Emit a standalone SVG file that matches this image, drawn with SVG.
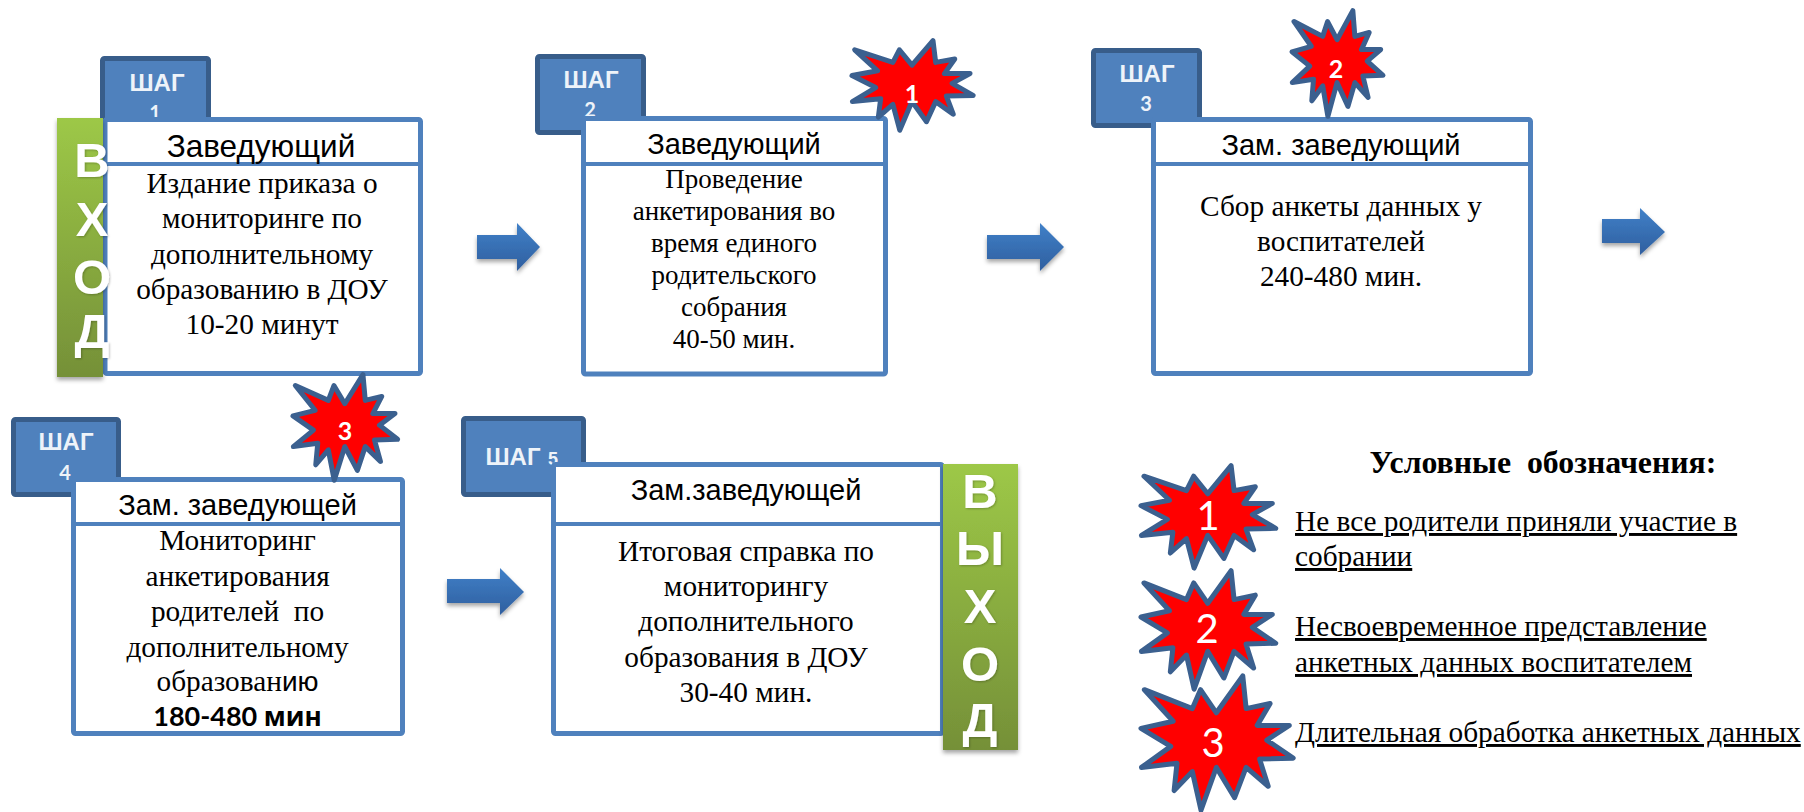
<svg xmlns="http://www.w3.org/2000/svg" width="1804" height="812" viewBox="0 0 1804 812">
<style>
text{text-anchor:middle}
.tab{fill:#4f81bd;stroke:#385d8a;stroke-width:5;stroke-linejoin:round}
.box{fill:#fff;stroke:#4f81bd;stroke-width:5;stroke-linejoin:round}
.div{stroke:#4f81bd;stroke-width:4;fill:none}
.s{font:bold 24px "Liberation Sans",Arial,sans-serif;fill:#eef3f9}
.d{font:bold 20px Lato,"Open Sans",sans-serif;fill:#eef3f9}
.t{font:29px "Liberation Sans",Arial,sans-serif;fill:#000}
.b{font:29.300px "Liberation Serif","Times New Roman",serif;fill:#000}
.l{font:49px "Liberation Sans",Arial,sans-serif;font-weight:bold;fill:#fff;filter:url(#ts)}
.n{font:bold 25px Lato,"Open Sans",sans-serif;fill:#fff}
.m{font:40px Lato,"Open Sans",sans-serif;fill:#fff}
.u{font:29.300px "Liberation Serif","Times New Roman",serif;fill:#000;text-anchor:start;text-decoration:underline}
.star{fill:#f00;stroke:#3b608f;stroke-width:5;stroke-linejoin:round;vector-effect:non-scaling-stroke}
.arr{fill:url(#ag);filter:url(#sh)}
.gr{fill:url(#gg);filter:url(#sh)}
</style>
<defs>
<linearGradient id="gg" x1="0" y1="0" x2="0" y2="1"><stop offset="0" stop-color="#9dc847"/><stop offset="1" stop-color="#759038"/></linearGradient>
<linearGradient id="ag" x1="0" y1="0" x2="0" y2="1"><stop offset="0" stop-color="#4080c8"/><stop offset="1" stop-color="#2f5f9f"/></linearGradient>
<filter id="sh" x="-20%" y="-20%" width="140%" height="140%"><feDropShadow dx="0" dy="3" stdDeviation="2" flood-color="#000" flood-opacity=".35"/></filter>
<filter id="ts" x="-30%" y="-30%" width="160%" height="160%"><feDropShadow dx="1" dy="1" stdDeviation="1" flood-color="#000" flood-opacity=".25"/></filter>
<polygon id="st" class="star" points="255,72 262,150 312,138 285,190 352,190 305,225 360,268 290,270 308,335 262,290 238,362 200,290 168,392 150,300 112,345 118,280 44,290 105,240 43,197 110,180 50,105 150,150 167,105 200,160"/>
</defs>

<g id="connectors">
<polygon class="arr" points="477,235 517,235 517,223 540,247 517,271 517,259 477,259"/>
<polygon class="arr" points="987,235 1040,235 1040,223 1064,247 1040,271 1040,259 987,259"/>
<polygon class="arr" points="1602,219 1640,219 1640,208 1665,232 1640,255 1640,243 1602,243"/>
<polygon class="arr" points="447,579 500,579 500,568 524,592 500,615 500,603 447,603"/>
</g>

<g id="step1">
<rect class="tab" x="102.500" y="58.500" width="106" height="76" rx="2"/>
<text class="s" x="157" y="91">ШАГ</text><text class="d" x="155" y="120">1</text>
<rect class="box" x="105" y="119.500" width="315.500" height="254" rx="2"/>
<line class="div" x1="105" y1="164" x2="420" y2="164"/>
<text class="t" x="261" y="157" style="font-size:31.500px">Заведующий</text>
<text class="b" x="262" y="193">Издание приказа о</text>
<text class="b" x="262" y="228">мониторинге по</text>
<text class="b" x="262" y="264">дополнительному</text>
<text class="b" x="262" y="299">образованию в ДОУ</text>
<text class="b" x="262" y="334">10-20 минут</text>
</g>
<g id="vhod">
<rect class="gr" x="57" y="118" width="46" height="259"/>
<text class="l" x="92" y="177">В</text><text class="l" x="92" y="236">Х</text><text class="l" x="92" y="294">О</text><text class="l" x="92" y="348">Д</text>
</g>

<g id="step2">
<rect class="tab" x="537.500" y="56.500" width="106" height="76" rx="2"/>
<text class="s" x="591" y="88">ШАГ</text><text class="d" x="590" y="117">2</text>
<rect class="box" x="583.500" y="118.500" width="302" height="255.500" rx="2"/>
<line class="div" x1="583" y1="164" x2="885" y2="164"/>
<text class="t" x="734" y="154">Заведующий</text>
<g style="font-size:27px">
<text class="b" style="font-size:27px" x="734" y="188">Проведение</text>
<text class="b" style="font-size:27px" x="734" y="220">анкетирования во</text>
<text class="b" style="font-size:27px" x="734" y="252">время единого</text>
<text class="b" style="font-size:27px" x="734" y="284">родительского</text>
<text class="b" style="font-size:27px" x="734" y="316">собрания</text>
<text class="b" style="font-size:27px" x="734" y="348">40-50 мин.</text>
</g>
</g>
<g id="risk1">
<use href="#st" transform="translate(852,40) scale(.382,.28) translate(-43,-70)"/>
<text class="n" x="912" y="103">1</text>
</g>

<g id="step3">
<rect class="tab" x="1093.500" y="50.500" width="106" height="75" rx="2"/>
<text class="s" x="1147" y="82">ШАГ</text><text class="d" x="1146" y="111">3</text>
<rect class="box" x="1153.500" y="119.500" width="377" height="254" rx="2"/>
<line class="div" x1="1153" y1="164" x2="1530" y2="164"/>
<text class="t" x="1341" y="155">Зам. заведующий</text>
<text class="b" x="1341" y="216">Сбор анкеты данных у</text>
<text class="b" x="1341" y="251">воспитателей</text>
<text class="b" x="1341" y="286">240-480 мин.</text>
</g>
<g id="risk2">
<use href="#st" transform="translate(1292,10) scale(.287,.33) translate(-43,-70)"/>
<text class="n" x="1336" y="78">2</text>
</g>

<g id="step4">
<rect class="tab" x="13.500" y="419.500" width="105" height="75" rx="2"/>
<text class="s" x="66" y="450">ШАГ</text><text class="d" x="65" y="480">4</text>
<rect class="box" x="73.500" y="479.500" width="329" height="254" rx="2"/>
<line class="div" x1="73" y1="524" x2="402" y2="524"/>
<text class="t" x="237.500" y="515">Зам. заведующей</text>
<text class="b" x="237.500" y="550">Мониторинг</text>
<text class="b" x="237.500" y="586">анкетирования</text>
<text class="b" x="237.500" y="621" xml:space="preserve">родителей  по</text>
<text class="b" x="237.500" y="657">дополнительному</text>
<text class="b" x="237.500" y="691">образован<tspan style="font-family:'Liberation Sans',sans-serif;font-size:28px">ию</tspan></text>
<text x="237.500" y="726" style="font:bold 27px Lato,'Open Sans',sans-serif">180-480 <tspan style="font-family:'Open Sans',sans-serif;font-size:26px">мин</tspan></text>
</g>
<g id="risk3">
<use href="#st" transform="translate(293,374) scale(.33,.33) translate(-43,-70)"/>
<text class="n" x="345" y="440">3</text>
</g>

<g id="step5">
<rect class="tab" x="463.500" y="418.500" width="120" height="76" rx="2"/>
<text class="s" x="513" y="465">ШАГ</text><text style="font:bold 18px 'Liberation Sans',sans-serif;fill:#eef3f9" x="553" y="465">5</text>
<rect class="box" x="553.500" y="464.500" width="389" height="269" rx="2"/>
<line class="div" x1="553" y1="524" x2="943" y2="524"/>
<text class="t" x="746" y="500">Зам.заведующей</text>
<text class="b" x="746" y="561">Итоговая справка по</text>
<text class="b" x="746" y="596">мониторингу</text>
<text class="b" x="746" y="631">дополнительного</text>
<text class="b" x="746" y="667">образования в ДОУ</text>
<text class="b" x="746" y="702">30-40 мин.</text>
</g>
<g id="vyhod">
<rect class="gr" x="943" y="464" width="75" height="286"/>
<text class="l" x="980" y="508">В</text><text class="l" x="980" y="565">Ы</text><text class="l" x="980" y="623">Х</text><text class="l" x="980" y="681">О</text><text class="l" x="980" y="737">Д</text>
</g>

<g id="legend">
<text x="1543" y="473" xml:space="preserve" style="font:bold 31.800px 'Liberation Serif',serif">Условные  обозначения:</text>
<use href="#st" transform="translate(1141,465) scale(.425,.32) translate(-43,-70)"/>
<use href="#st" transform="translate(1141,570) scale(.425,.37) translate(-43,-70)"/>
<use href="#st" transform="translate(1141,675) scale(.48,.42) translate(-43,-70)"/>
<text class="m" x="1208" y="530">1</text>
<text class="m" x="1207" y="643">2</text>
<text class="m" x="1213" y="757">3</text>
<text class="u" x="1295" y="531">Не все родители приняли участие в</text>
<text class="u" x="1295" y="566">собрании</text>
<text class="u" x="1295" y="636">Несвоевременное представление</text>
<text class="u" x="1295" y="672">анкетных данных воспитателем</text>
<text class="u" x="1295" y="742">Длительная обработка анкетных данных</text>
</g>
</svg>
